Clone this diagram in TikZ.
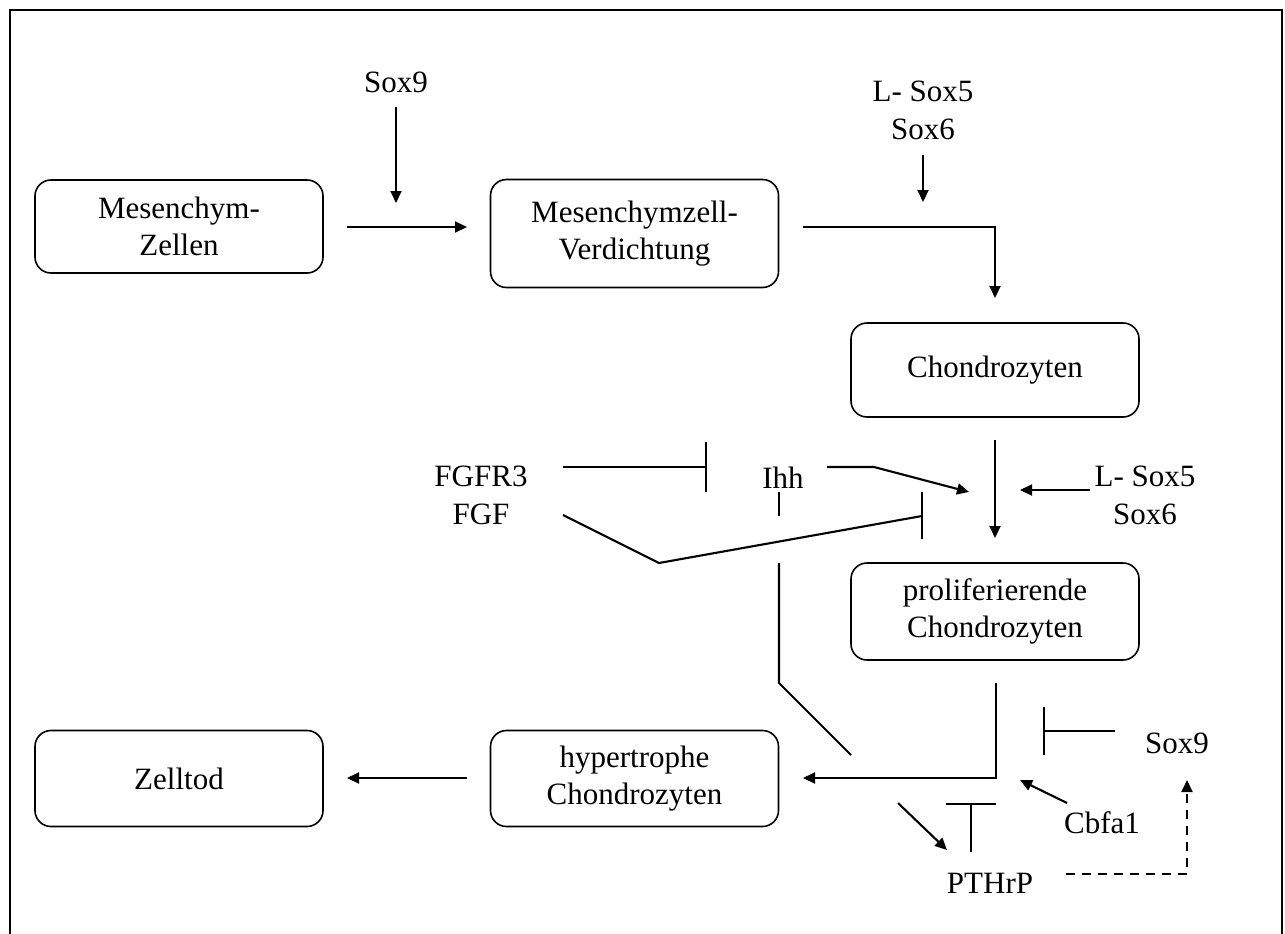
\documentclass[tikz,border=0pt]{standalone}
\usepackage{fontspec}
\setmainfont{Liberation Serif}
\usetikzlibrary{arrows.meta}
\begin{document}
\begin{tikzpicture}[x=1pt,y=-1pt,
  box/.style={draw,line width=1.6pt,rounded corners=16pt,minimum width=288pt,align=center,font=\fontsize{31}{37}\selectfont,inner sep=0pt},
  lbl/.style={align=center,font=\fontsize{31}{38}\selectfont,inner sep=0pt},
  ln/.style={line width=2.1pt},
  arr/.style={line width=2.1pt,-{Triangle[length=12pt,width=11pt]}},
  inh/.style={line width=2.1pt,-{Bar[width=50pt,line width=2.1pt]}}]
\useasboundingbox (0,0) rectangle (1285,934);
\draw[line width=2.6pt] (10,945) -- (10,10) -- (1282,10) -- (1282,945);
% boxes
\node[box,minimum height=93pt] (mz) at (179,226.5) {Mesenchym-\\Zellen};
\node[box,minimum height=108pt] (mv) at (634.5,233.5) {Mesenchymzell-\\Verdichtung};
\node[box,minimum height=94pt] (ch) at (995,370) {Chondrozyten};
\node[box,minimum height=97pt] (pc) at (995,611.5) {proliferierende\\Chondrozyten};
\node[box,minimum height=96pt] (zt) at (179,778.5) {Zelltod};
\node[box,minimum height=96pt] (hc) at (634.5,778.5) {hypertrophe\\Chondrozyten};
% labels
\node[lbl] (sox9a) at (396,82) {Sox9};
\node[lbl] (lsoxa) at (923,110) {L- Sox5\\Sox6};
\node[lbl] (fgf) at (481,495) {FGFR3\\FGF};
\node[lbl] (ihh) at (783,478) {Ihh};
\node[lbl] (lsoxb) at (1145,495) {L- Sox5\\Sox6};
\node[lbl] (sox9b) at (1177,743) {Sox9};
\node[lbl] (cbfa) at (1102,823) {Cbfa1};
\node[lbl] (pthrp) at (990,883) {PTHrP};
% coordinates
\coordinate (a1s) at (347,227);
\coordinate (a1e) at (467,227);
\coordinate (s9s) at (396,107);
\coordinate (s9e) at (396,203);
\coordinate (l5s) at (923,155);
\coordinate (l5e) at (923,202);
\coordinate (vs) at (803,227);
\coordinate (vc) at (995,227);
\coordinate (ve) at (995,298);
\coordinate (cs) at (995,440);
\coordinate (ce) at (995,538);
\coordinate (lbs) at (1090,490);
\coordinate (lbe) at (1020,490);
\coordinate (fgs) at (563,467);
\coordinate (fge) at (707,467);
\coordinate (ihs) at (827,467);
\coordinate (ihc) at (874,467);
\coordinate (ihe) at (969,492);
\coordinate (ihb1) at (779,492);
\coordinate (ihb2) at (779,516);
\coordinate (fs) at (563,515);
\coordinate (fc) at (659,563);
\coordinate (fe) at (922,516);
\coordinate (fb1) at (922,492);
\coordinate (fb2) at (922,539);
\coordinate (dv1) at (779,563);
\coordinate (dv2) at (779,683);
\coordinate (dv3) at (851,755);
\coordinate (ps) at (996,683);
\coordinate (pc1) at (996,778);
\coordinate (pe) at (803,778);
\coordinate (hs) at (467,778);
\coordinate (he) at (347,778);
\coordinate (sxs) at (1115,731);
\coordinate (sxe) at (1043,731);
\coordinate (cbs) at (1067,803);
\coordinate (cbe) at (1020,780);
\coordinate (pts) at (898,803);
\coordinate (pte) at (947,850);
\coordinate (tbs) at (971,852);
\coordinate (tbe) at (971,803);
\coordinate (dss) at (1066,874);
\coordinate (dsc) at (1187,874);
\coordinate (dse) at (1187,780);
% connectors
\draw[arr] (a1s) -- (a1e);
\draw[arr] (s9s) -- (s9e);
\draw[arr] (l5s) -- (l5e);
\draw[arr] (vs) -- (vc) -- (ve);
\draw[arr] (cs) -- (ce);
\draw[arr] (lbs) -- (lbe);
\draw[inh] (fgs) -- (fge);
\draw[arr] (ihs) -- (ihc) -- (ihe);
\draw[ln] (ihb1) -- (ihb2);
\draw[ln] (fs) -- (fc) -- (fe);
\draw[ln] (fb1) -- (fb2);
\draw[ln] (dv1) -- (dv2) -- (dv3);
\draw[arr] (ps) -- (pc1) -- (pe);
\draw[arr] (hs) -- (he);
\draw[inh,-{Bar[width=48pt,line width=2.1pt]}] (sxs) -- (sxe);
\draw[arr] (cbs) -- (cbe);
\draw[arr] (pts) -- (pte);
\draw[inh] (tbs) -- (tbe);
\draw[arr,dash pattern=on 9pt off 7pt] (dss) -- (dsc) -- (dse);
\end{tikzpicture}
\end{document}
